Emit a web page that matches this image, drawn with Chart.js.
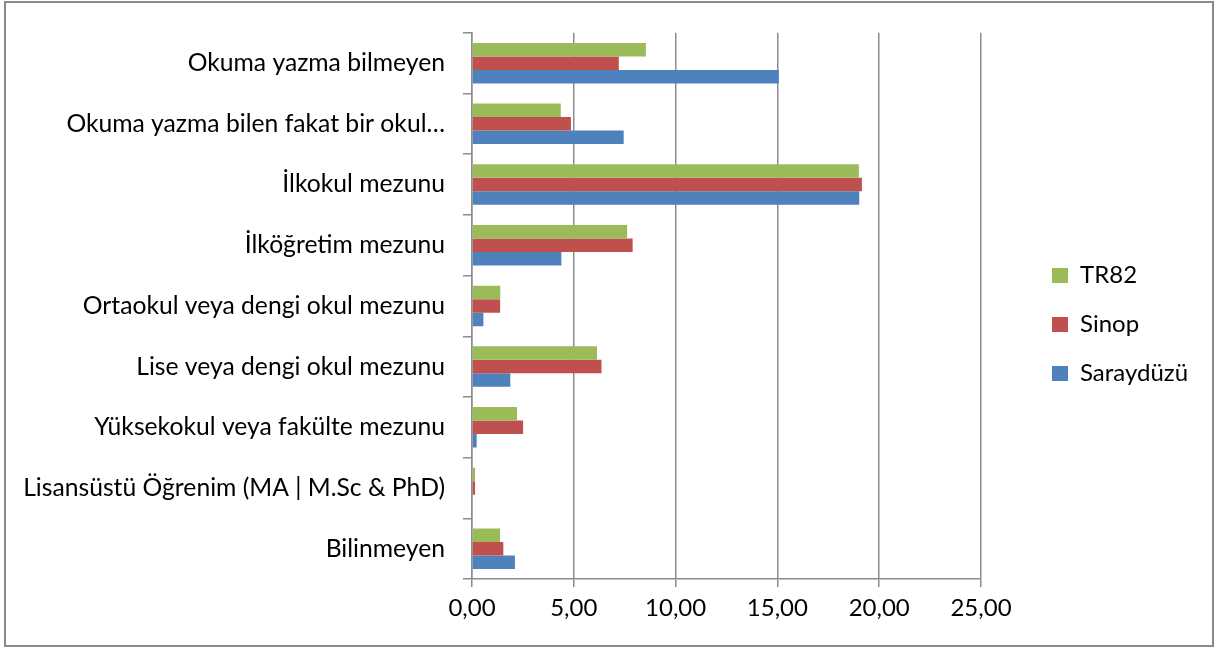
<!DOCTYPE html>
<html lang="tr">
<head>
<meta charset="utf-8">
<title>Eğitim durumu</title>
<script src="https://cdn.jsdelivr.net/npm/chart.js@4/dist/chart.umd.min.js"></script>
<style>
  html, body { margin: 0; padding: 0; background: #fff; }
  #wrap { width: 1215px; height: 649px; position: relative; }
</style>
</head>
<body>
<div id="wrap"><canvas id="egitimChart" width="1215" height="649"></canvas></div>
<script>
// ==========================
// Data
// ==========================
const categories = [
  "Okuma yazma bilmeyen",
  "Okuma yazma bilen fakat bir okul…",
  "İlkokul mezunu",
  "İlköğretim mezunu",
  "Ortaokul veya dengi okul mezunu",
  "Lise veya dengi okul mezunu",
  "Yüksekokul veya fakülte mezunu",
  "Lisansüstü Öğrenim (MA | M.Sc & PhD)",
  "Bilinmeyen"
];

const tr82Values      = [8.54, 4.36, 19.00, 7.62, 1.39, 6.14, 2.21, 0.15, 1.38];
const sinopValues     = [7.21, 4.86, 19.15, 7.89, 1.38, 6.36, 2.51, 0.15, 1.54];
const saraydozuValues = [15.07, 7.45, 19.02, 4.39, 0.56, 1.88, 0.23, 0.00, 2.11];

const xTicks = [0, 5, 10, 15, 20, 25];

const FONT = "Lato, 'Liberation Sans', sans-serif";
const GRID = "#8c8c8c";

// border + white background
const frame = {
  id: "frame",
  beforeDraw(chart) {
    const ctx = chart.ctx;
    ctx.save();
    ctx.fillStyle = "#fff";
    ctx.fillRect(0, 0, chart.width, chart.height);
    ctx.strokeStyle = "#8a8a8a";
    ctx.lineWidth = 2;
    ctx.strokeRect(5, 2, 1208, 644);
    ctx.restore();
  }
};

// put the legend where Excel had it
const legendPlace = {
  id: "legendPlace",
  afterLayout(chart) {
    const lg = chart.legend;
    if (!lg) return;
    const w = lg.width;
    lg.left = 1052 - 25;
    lg.right = lg.left + w;
    lg.top = 0;
    lg.bottom = 649;
    lg.height = 649;
  }
};

const ctx = document.getElementById("egitimChart").getContext("2d");
new Chart(ctx, {
  type: "bar",
  data: {
    labels: categories,
    datasets: [
      { label: "TR82", data: tr82Values, backgroundColor: "#9BBB59" },
      { label: "Sinop", data: sinopValues, backgroundColor: "#C0504D" },
      { label: "Saraydüzü", data: saraydozuValues, backgroundColor: "#4F81BD" }
    ]
  },
  options: {
    indexAxis: "y",
    responsive: false,
    animation: false,
    devicePixelRatio: 1,
    categoryPercentage: 0.667,
    barPercentage: 1.0,
    borderWidth: 0,
    layout: { padding: { left: 0, top: 31, right: 234, bottom: 0 } },
    plugins: {
      legend: {
        position: "chartArea",
        labels: {
          boxWidth: 16,
          boxHeight: 15,
          padding: 25,
          color: "#000",
          font: { family: FONT, size: 24 }
        }
      },
      tooltip: { enabled: false }
    },
    scales: {
      x: {
        min: 0,
        max: 25,
        afterBuildTicks(scale) {
          scale.ticks = xTicks.map(v => ({ value: v }));
        },
        afterFit(scale) { scale.height = 70; },
        grid: { color: GRID, lineWidth: 1.5, tickLength: 8, drawTicks: true },
        border: { color: GRID, width: 1.5 },
        ticks: {
          color: "#000",
          padding: 7,
          font: { family: FONT, size: 24 },
          callback: v => v.toFixed(2).replace(".", ",")
        }
      },
      y: {
        afterFit(scale) { scale.width = 472; },
        grid: { drawOnChartArea: false, color: GRID, lineWidth: 1.5, tickLength: 9, offset: true },
        border: { color: GRID, width: 1.5 },
        ticks: {
          color: "#000",
          padding: 18,
          font: { family: FONT, size: 24.7 }
        }
      }
    }
  },
  plugins: [frame, legendPlace]
});
</script>
</body>
</html>
